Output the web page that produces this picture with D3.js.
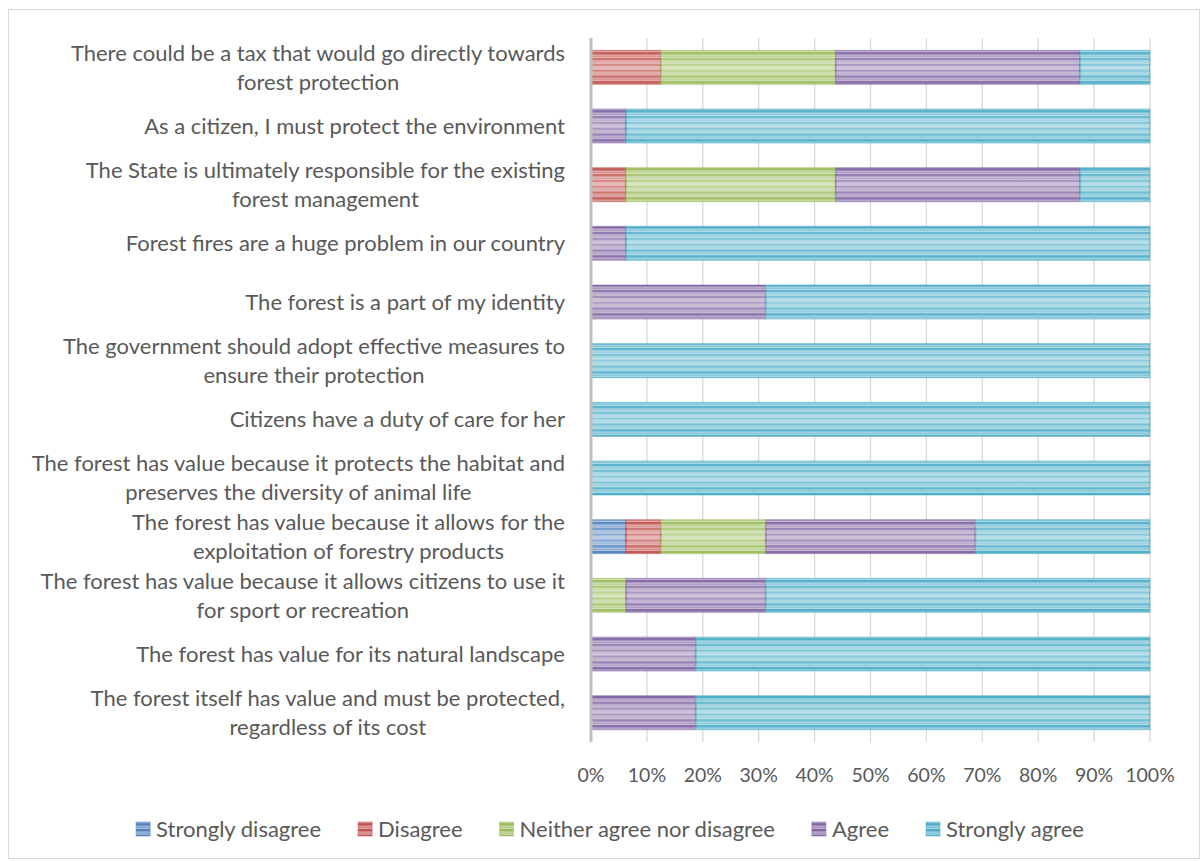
<!DOCTYPE html>
<html>
<head>
<meta charset="utf-8">
<script src="https://cdn.jsdelivr.net/npm/d3@7"></script>
<style>
  body { margin: 0; background: #fff; }
  text { font-family: Lato, "Open Sans", sans-serif; fill: #595959; }
</style>
</head>
<body>
<svg id="chart" width="1203" height="861"></svg>
<script>
var categories = [
  ["There could be a tax that would go directly towards", "forest protection"],
  ["As a citizen, I must protect the environment "],
  ["The State is ultimately responsible for the existing", "forest management"],
  ["Forest fires are a huge problem in our country"],
  ["The forest is a part of my identity"],
  ["The government should adopt effective measures to", "ensure their protection"],
  ["Citizens have a duty of care for her "],
  ["The forest has value because it protects the habitat and", "preserves the diversity of animal life"],
  ["The forest has value because it allows for the", "exploitation of forestry products"],
  ["The forest has value because it allows citizens to use it", "for sport or recreation"],
  ["The forest has value for its natural landscape"],
  ["The forest itself has value and must be protected,", "regardless of its cost"]
];
var seriesNames = ["Strongly disagree", "Disagree", "Neither agree nor disagree", "Agree", "Strongly agree"];
var stronglyDisagree = [0, 0, 0, 0, 0, 0, 0, 0, 6.25, 0, 0, 0];
var disagree         = [12.5, 0, 6.25, 0, 0, 0, 0, 0, 6.25, 0, 0, 0];
var neither          = [31.25, 0, 37.5, 0, 0, 0, 0, 0, 18.75, 6.25, 0, 0];
var agree            = [43.75, 6.25, 43.75, 6.25, 31.25, 0, 0, 0, 37.5, 25, 18.75, 18.75];
var stronglyAgree    = [12.5, 93.75, 12.5, 93.75, 68.75, 100, 100, 100, 31.25, 68.75, 81.25, 81.25];
var xTicks = [0, 10, 20, 30, 40, 50, 60, 70, 80, 90, 100];

var colors = ["#4f81bd", "#c0504d", "#9bbb59", "#8064a2", "#4bacc6"];
var values = [stronglyDisagree, disagree, neither, agree, stronglyAgree];

var svg = d3.select("#chart");

// outer border
svg.append("rect")
  .attr("x", 8.5).attr("y", 9.5)
  .attr("width", 1191).attr("height", 849)
  .attr("fill", "#fff").attr("stroke", "#d9d9d9");

// striped fills
var defs = svg.append("defs");
colors.forEach(function(c, i) {
  var light = d3.interpolateRgb(c, "#fff")(0.5);
  var p = defs.append("pattern")
    .attr("id", "stripe" + i)
    .attr("patternUnits", "userSpaceOnUse")
    .attr("width", 8).attr("height", 5.8);
  p.append("rect").attr("width", 8).attr("height", 5.8).attr("fill", light);
  p.append("rect").attr("y", 0).attr("width", 8).attr("height", 2.4).attr("fill", c);
  p.append("rect").attr("y", 3.6).attr("width", 8).attr("height", 1).attr("fill", c).attr("opacity", 0.6);
});
// soft highlight through the middle of each bar
var glow = defs.append("linearGradient").attr("id", "glow")
  .attr("x1", 0).attr("y1", 0).attr("x2", 0).attr("y2", 1);
glow.append("stop").attr("offset", "0%").attr("stop-color", "#fff").attr("stop-opacity", 0);
glow.append("stop").attr("offset", "50%").attr("stop-color", "#fff").attr("stop-opacity", 0.4);
glow.append("stop").attr("offset", "100%").attr("stop-color", "#fff").attr("stop-opacity", 0);

var plotLeft = 591, plotRight = 1150, plotTop = 38, plotBottom = 742;

var x = d3.scaleLinear().domain([0, 100]).range([plotLeft, plotRight]);
var y = d3.scaleBand()
  .domain(d3.range(categories.length))
  .range([plotTop, plotBottom])
  .paddingInner(0.42).paddingOuter(0.21);

// gridlines
svg.append("g").selectAll("line")
  .data(xTicks.slice(1))
  .enter().append("line")
  .attr("x1", d => x(d)).attr("x2", d => x(d))
  .attr("y1", plotTop).attr("y2", plotBottom)
  .attr("stroke", "#d9d9d9").attr("stroke-width", 1.3);

// stacked data
var rows = categories.map(function(c, i) {
  var o = { i: i };
  seriesNames.forEach(function(s, k) { o[s] = values[k][i]; });
  return o;
});
var stack = d3.stack().keys(seriesNames)(rows);

stack.forEach(function(layer, k) {
  var segs = layer.filter(d => d[1] - d[0] > 0);
  var g = svg.append("g");
  g.selectAll("rect.seg")
    .data(segs)
    .enter().append("rect")
    .attr("class", "seg")
    .attr("x", d => x(d[0]))
    .attr("width", d => x(d[1]) - x(d[0]))
    .attr("y", d => y(d.data.i))
    .attr("height", y.bandwidth())
    .attr("fill", "url(#stripe" + k + ")")
    .attr("stroke", colors[k]).attr("stroke-opacity", 0.5).attr("stroke-width", 1);
  g.selectAll("rect.glow")
    .data(segs)
    .enter().append("rect")
    .attr("class", "glow")
    .attr("x", d => x(d[0]) + 1)
    .attr("width", d => x(d[1]) - x(d[0]) - 2)
    .attr("y", d => y(d.data.i))
    .attr("height", y.bandwidth())
    .attr("fill", "url(#glow)");
});

// category axis line
svg.append("line")
  .attr("x1", plotLeft).attr("x2", plotLeft)
  .attr("y1", plotTop).attr("y2", plotBottom)
  .attr("stroke", "#bfbfbf").attr("stroke-width", 3);

// category labels
var labelRight = 565, fs = 22, lh = 29;
categories.forEach(function(lines, i) {
  var g = svg.append("g");
  var cy = y(i) + y.bandwidth() / 2;
  var texts = lines.map(function(l, j) {
    return g.append("text")
      .attr("y", cy + (j - (lines.length - 1) / 2) * lh)
      .attr("dy", "0.35em")
      .attr("text-anchor", "middle")
      .style("font-size", fs + "px")
      .text(l);
  });
  var w = d3.max(texts, t => t.node().getComputedTextLength());
  texts.forEach(t => t.attr("x", labelRight - w / 2));
});

// x axis tick labels
svg.append("g").selectAll("text")
  .data(xTicks)
  .enter().append("text")
  .attr("x", d => x(d))
  .attr("y", 775)
  .attr("dy", "0.35em")
  .attr("text-anchor", "middle")
  .style("font-size", "19.5px")
  .text(d => d + "%");

// legend
var legend = svg.append("g");
var cx = 0;
seriesNames.forEach(function(s, k) {
  var g = legend.append("g");
  g.append("rect").attr("x", 0).attr("y", -7).attr("width", 14).attr("height", 14)
    .attr("fill", "url(#stripe" + k + ")").attr("stroke", colors[k]).attr("stroke-opacity", 0.5);
  var t = g.append("text").attr("x", 20).attr("dy", "0.35em")
    .style("font-size", fs + "px").text(s);
  var w = 20 + t.node().getComputedTextLength();
  g.attr("transform", "translate(" + cx + ",0)");
  cx += w + 37;
});
var total = cx - 37;
legend.attr("transform", "translate(" + (610 - total / 2) + ",829)");
</script>
</body>
</html>
